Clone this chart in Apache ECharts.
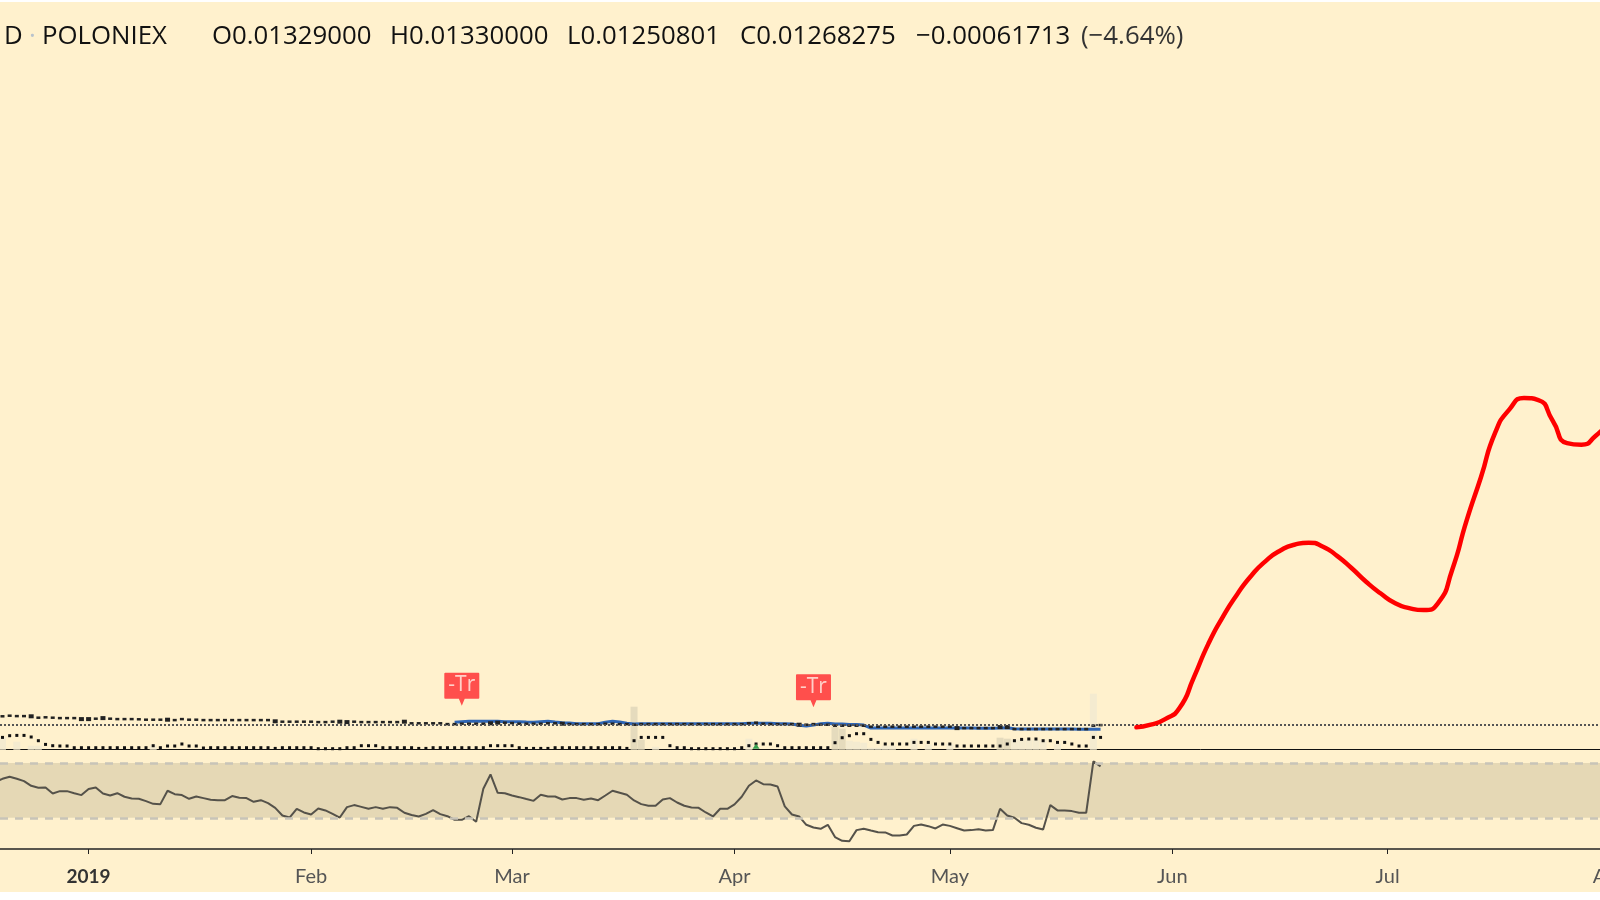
<!DOCTYPE html>
<html>
<head>
<meta charset="utf-8">
<style>
  html, body { margin: 0; padding: 0; background: #fff; }
  #main { width: 1600px; height: 900px; }
</style>
<script src="https://cdn.jsdelivr.net/npm/echarts@6/dist/echarts.min.js"></script>
</head>
<body>
<div id="main"></div>
<script>
// x values are days counted from 2019-01-01
// daily data starts 2018-12-19, 155 days up to 2019-05-22
const firstDay = -13

const monthTicks = [0, 31, 59, 90, 120, 151, 181, 212]
const monthLabels = ['2019', 'Feb', 'Mar', 'Apr', 'May', 'Jun', 'Jul', 'Aug']

const closes = [
  0.0167, 0.0167, 0.0170, 0.0168, 0.0168, 0.0167, 0.0160, 0.0162, 0.0160, 0.0158,
  0.0158, 0.0158, 0.0153, 0.0153, 0.0155, 0.0158, 0.0155, 0.0153, 0.0153, 0.0153,
  0.0152, 0.0150, 0.0150, 0.0150, 0.0150, 0.0148, 0.0153, 0.0150, 0.0150, 0.0148,
  0.0148, 0.0148, 0.0148, 0.0148, 0.0148, 0.0148, 0.0148, 0.0148, 0.0148, 0.0142,
  0.0140, 0.0140, 0.0140, 0.0140, 0.0140, 0.0138, 0.0138, 0.0140, 0.0140, 0.0138,
  0.0140, 0.0138, 0.0138, 0.0138, 0.0138, 0.0138, 0.0138, 0.0140, 0.0132, 0.0132,
  0.0132, 0.0132, 0.0132, 0.0128, 0.0128, 0.0130, 0.0130, 0.0130, 0.0130, 0.0132,
  0.0135, 0.0135, 0.0133, 0.0130, 0.0130, 0.0130, 0.0130, 0.0132, 0.0132, 0.0130,
  0.0128, 0.0128, 0.0128, 0.0128, 0.0128, 0.0130, 0.0130, 0.0128, 0.0128, 0.0125,
  0.0128, 0.0128, 0.0128, 0.0128, 0.0128, 0.0128, 0.0128, 0.0128, 0.0128, 0.0128,
  0.0128, 0.0128, 0.0128, 0.0128, 0.0128,
  0.0132, 0.0135, 0.0130, 0.0128, 0.0128, 0.0128, 0.0128,
  0.0125, 0.0125, 0.0128, 0.0125, 0.0125, 0.0120,
  0.0120, 0.0120, 0.0120, 0.0120,
  0.0115, 0.0115, 0.0115, 0.0115, 0.0115, 0.0115, 0.0115, 0.0115, 0.0115, 0.0115, 0.0115, 0.0115,
  0.0108, 0.0108, 0.0108, 0.0108, 0.0108, 0.0108, 0.0113, 0.0113,
  0.0103, 0.0103, 0.0103, 0.0103, 0.0103, 0.0103, 0.0103, 0.0103, 0.0103, 0.0103, 0.0103,
  0.0120, 0.0123
]
const heavyCandles = [5, 12, 13, 15, 24, 39, 48, 49, 57, 69, 70, 79, 112, 134, 140, 141]

// moving average line, starts 2019-02-21
const maFirstDay = 51
const maLine = [
  0.0137, 0.0140, 0.0142, 0.0142, 0.0142, 0.0142, 0.0142, 0.0140, 0.0140, 0.0140, 0.0138, 0.0137, 0.0140, 0.0142, 0.0138, 0.0135,
  0.0133, 0.0130, 0.0130, 0.0130, 0.0130, 0.0137, 0.0142, 0.0138, 0.0132, 0.0128,
  0.0130, 0.0130, 0.0130, 0.0130, 0.0130, 0.0130, 0.0130, 0.0130, 0.0130, 0.0130, 0.0130, 0.0130, 0.0130, 0.0130, 0.0130, 0.0132, 0.0132,
  0.0132, 0.0132, 0.0130, 0.0130, 0.0128, 0.0122, 0.0118, 0.0123, 0.0130, 0.0132,
  0.0128, 0.0128, 0.0126, 0.0126, 0.0123,
  0.0108, 0.0108, 0.0108, 0.0108, 0.0108, 0.0108, 0.0108, 0.0108, 0.0108, 0.0108, 0.0108, 0.0108, 0.0108,
  0.0108, 0.0108, 0.0107, 0.0107, 0.0107, 0.0108, 0.0110, 0.0105,
  0.0103, 0.0103, 0.0103, 0.0103, 0.0103, 0.0103, 0.0103, 0.0103, 0.0102, 0.0102, 0.0102, 0.0102
]

// volume moving average, same days as closes
const volumeMa = [
  11.5, 12.3, 14, 14.3, 14.3, 12.7, 9, 5.3, 4, 3.7,
  3.7, 2, 2, 2, 2, 2, 2, 2, 2, 2,
  2, 2, 4, 2, 3.7, 3.7, 5.7, 3.7, 3.7, 1.7,
  2, 2, 2, 2, 2, 2, 2, 2, 2, 1.3,
  2, 2, 2, 2, 2, 1, 1, 1, 1, 2,
  2, 4, 4, 4, 2, 2, 2, 2, 2, 1.3,
  1.3, 2, 2, 2, 2, 2, 2, 2, 2, 4,
  4, 4, 4, 2, 1.3, 1.3, 1.3, 1.3, 2, 2,
  2, 2, 2, 2, 2, 2, 2, 2, 1.3, 9,
  12.3, 12.3, 12.3, 12.3, 4, 2, 2, 1, 1, 1,
  1, 1, 1, 1, 2, 4, 5.7, 5.7, 5.7, 4,
  2, 2, 2, 2, 2, 2, 2, 7, 12, 14,
  16, 16, 10.3, 7.3, 5.7, 5.7, 5.7, 5.7, 7.3, 7.3,
  7.3, 5.7, 5.7, 5.7, 3.7, 3.7, 3.7, 3.7, 3.7, 3.7,
  3.7, 5.7, 9, 10.3, 10.7, 10.7, 9, 9, 7.3, 7.3,
  5.7, 3.7, 3.7, 12.3, 12.3
]

const volumeDays = [76, 77, 104, 105, 127, 128]
const volumeBars = [43, 10, 23, 21, 12, 11]
const paleVolumeDays = [-12, -10, -8, -7, 9, 79, 92, 106, 107, 108, 109, 110, 111, 112, 115, 117, 120, 129, 130, 131, 132, 133, 135, 140]
const paleVolumeBars = [13, 8, 4, 4, 5, 3, 11, 9, 8, 7, 2, 2, 4, 4, 11, 5, 6, 10, 10, 10, 10, 10, 6, 56]

const rsi = [
  56.1, 58.5, 60.0, 58.5, 56.8, 53.4, 52.0, 52.2, 47.8, 49.5,
  49.5, 48.0, 46.6, 51.0, 52.2, 47.8, 46.3, 48.0, 45.4, 44.1,
  43.9, 42.2, 40.2, 40.0, 49.8, 47.3, 46.6, 43.9, 45.6, 44.4,
  43.2, 42.9, 42.9, 45.9, 44.6, 44.4, 41.7, 42.9, 40.7, 37.3,
  31.7, 30.2, 36.6, 33.9, 32.4, 36.8, 35.4, 32.9, 30.2, 37.8,
  39.3, 38.0, 36.6, 37.8, 36.6, 37.8, 37.3, 33.7, 32.0, 31.0,
  32.9, 35.6, 32.7, 31.2, 28.5, 28.5, 31.2, 27.1, 51.2, 61.7,
  48.3, 48.0, 46.3, 45.1, 43.7, 42.4, 46.8, 45.6, 45.6, 43.4,
  44.4, 44.4, 43.2, 44.1, 42.9, 46.3, 49.8, 48.3, 46.8, 42.7,
  40.0, 38.8, 38.8, 43.4, 44.4, 41.2, 38.8, 37.6, 37.3, 33.9,
  31.0, 36.6, 36.6, 39.8, 45.4, 53.4, 57.3, 54.6, 54.4, 52.9,
  38.3, 32.4, 31.0, 24.9, 22.9, 22.0, 24.9, 15.9, 13.2, 12.9,
  21.0, 22.0, 20.7, 19.5, 19.3, 17.1, 17.1, 17.8, 24.1, 25.1,
  23.9, 22.2, 25.1, 24.1, 22.4, 20.7, 21.0, 21.7, 20.7, 21.0,
  36.6, 31.7, 30.0, 26.1, 24.9, 22.7, 21.5, 39.3, 35.4, 35.4,
  34.9, 33.7, 33.7, 71.2, 67.6
]

// hand drawn projection
const projectionDays = [
  146, 148, 150, 152, 154, 156, 158, 160, 162, 164, 166, 168, 170, 172, 174, 176, 178,
  180, 182, 184, 186, 188, 190, 192, 194, 196, 198, 200, 202, 204, 206, 208, 210, 212
]
const projection = [
  0.0112, 0.0125, 0.0153, 0.0208, 0.0362, 0.0528, 0.0662, 0.0775, 0.0870, 0.0943, 0.0995, 0.1025, 0.1035, 0.1015, 0.0968, 0.0907, 0.0840,
  0.0782, 0.0733, 0.0708, 0.0698, 0.0732, 0.0900, 0.1145, 0.1362, 0.1587, 0.1703, 0.1758, 0.1748, 0.1645, 0.1533, 0.1525, 0.1570, 0.1645
]

const lastClose = 0.01268275
const rsiUpper = 70
const rsiLower = 30
const tradeDays = [52, 101]
const tradePrices = [0.022, 0.0212]
const buyDay = 93
const buyVolume = 3.5

const headerFont = '"Open Sans", sans-serif'
const headerItems = [
  ['D', 4, '#111'],
  ['·', 29, '#b9c3cc'],
  ['POLONIEX', 42, '#111'],
  ['O0.01329000', 212, '#111'],
  ['H0.01330000', 390, '#111'],
  ['L0.01250801', 567, '#111'],
  ['C0.01268275', 740, '#111'],
  ['−0.00061713', 916, '#111'],
  ['(−4.64%)', 1081, '#333']
]

const dailySeries = (values, start) => values.map((v, i) => [start + i, v])
const pairs = (days, values) => days.map((d, i) => [d, values[i]])

const dayAxis = {
  type: 'value',
  min: -12.345,
  max: 218.95,
  splitLine: { show: false }
}

const chart = echarts.init(document.getElementById('main'))
chart.setOption({
  animation: false,
  backgroundColor: '#fff',
  graphic: [
    {
      type: 'rect',
      z: -10,
      silent: true,
      shape: { x: 0, y: 2, width: 1600, height: 890 },
      style: { fill: '#fff1cd' }
    },
    ...headerItems.map(item => ({
      type: 'text',
      x: item[1],
      y: 24,
      silent: true,
      style: { text: item[0], fill: item[2], font: '25.8px ' + headerFont }
    }))
  ],
  grid: [
    { left: 0, width: 1660, top: 0.7, height: 749, outerBoundsMode: 'none' },
    { left: 0, width: 1660, top: 749, height: 100, outerBoundsMode: 'none' }
  ],
  xAxis: [
    {
      ...dayAxis,
      gridIndex: 0,
      axisLine: { show: true, onZero: false, lineStyle: { color: '#111', width: 1 } },
      axisTick: { show: false },
      axisLabel: { show: false }
    },
    {
      ...dayAxis,
      gridIndex: 1,
      axisLine: { show: true, onZero: false, lineStyle: { color: '#222', width: 1.5 } },
      axisTick: { show: true, length: 5, customValues: monthTicks, lineStyle: { color: '#222' } },
      axisLabel: {
        show: true,
        customValues: monthTicks,
        hideOverlap: false,
        margin: 18,
        fontSize: 20,
        fontFamily: 'Lato, sans-serif',
        color: '#555',
        formatter: value => {
          const label = monthLabels[monthTicks.indexOf(value)]
          return label === '2019' ? '{year|' + label + '}' : label
        },
        rich: { year: { fontSize: 19, fontWeight: 'bold', color: '#333', fontFamily: 'Lato, sans-serif' } }
      }
    }
  ],
  yAxis: [
    { type: 'value', gridIndex: 0, min: 0, max: 0.3745, show: false },
    { type: 'value', gridIndex: 0, min: 0, max: 749, show: false },
    { type: 'value', gridIndex: 1, min: 7.2, max: 80.3, show: false }
  ],
  series: [
    {
      name: 'Volume',
      type: 'bar',
      xAxisIndex: 0,
      yAxisIndex: 1,
      barWidth: 7,
      barGap: '-100%',
      data: pairs(paleVolumeDays, paleVolumeBars),
      itemStyle: { color: '#f4ebd0' },
      z: 1
    },
    {
      name: 'Volume dark',
      type: 'bar',
      xAxisIndex: 0,
      yAxisIndex: 1,
      barWidth: 7,
      barGap: '-100%',
      data: pairs(volumeDays, volumeBars),
      itemStyle: { color: '#e5dbbd' },
      z: 1
    },
    {
      name: 'Last price',
      type: 'line',
      xAxisIndex: 0,
      yAxisIndex: 0,
      data: [],
      markLine: {
        silent: true,
        symbol: 'none',
        precision: 8,
        label: { show: false },
        lineStyle: { color: '#555', type: [2, 2], width: 2 },
        data: [{ yAxis: lastClose }]
      },
      z: 2
    },
    {
      name: 'MA',
      type: 'line',
      xAxisIndex: 0,
      yAxisIndex: 0,
      data: dailySeries(maLine, maFirstDay),
      showSymbol: false,
      lineStyle: { color: '#2f66b5', width: 3 },
      z: 3
    },
    {
      name: 'Close',
      type: 'scatter',
      xAxisIndex: 0,
      yAxisIndex: 0,
      data: dailySeries(closes, firstDay),
      symbol: 'rect',
      symbolSize: (value, params) => heavyCandles.includes(params.dataIndex) ? [5, 4] : [4, 2.5],
      itemStyle: { color: '#222', opacity: 1 },
      z: 4
    },
    {
      name: 'Volume MA',
      type: 'scatter',
      xAxisIndex: 0,
      yAxisIndex: 1,
      data: dailySeries(volumeMa, firstDay),
      symbol: 'rect',
      symbolSize: 3,
      itemStyle: { color: '#111', opacity: 1 },
      z: 4
    },
    {
      name: 'Buy',
      type: 'scatter',
      xAxisIndex: 0,
      yAxisIndex: 1,
      data: [[buyDay, buyVolume]],
      symbol: 'triangle',
      symbolSize: [7, 5],
      itemStyle: { color: '#35a04d', opacity: 1 },
      z: 5
    },
    {
      name: 'Trades',
      type: 'scatter',
      xAxisIndex: 0,
      yAxisIndex: 0,
      data: pairs(tradeDays, tradePrices),
      symbol: 'path://M1 0H35Q36 0 36 1V25Q36 26 35 26H21L18 33L15 26H1Q0 26 0 25V1Q0 0 1 0Z',
      symbolSize: [35, 33],
      symbolKeepAspect: false,
      symbolOffset: [0, '-50%'],
      itemStyle: { color: '#ff4f4c', opacity: 1 },
      label: {
        show: true,
        position: 'inside',
        offset: [0, -4],
        formatter: '-Tr',
        color: '#ffd0c8',
        fontSize: 21,
        fontFamily: '"Open Sans", sans-serif'
      },
      z: 6
    },
    {
      name: 'Projection',
      type: 'line',
      xAxisIndex: 0,
      yAxisIndex: 0,
      data: pairs(projectionDays, projection),
      smooth: 0.6,
      showSymbol: false,
      lineStyle: { color: '#ff0000', width: 4.5, cap: 'round' },
      z: 7
    },
    {
      name: 'RSI',
      type: 'line',
      xAxisIndex: 1,
      yAxisIndex: 2,
      data: dailySeries(rsi, firstDay),
      showSymbol: false,
      lineStyle: { color: '#55524a', width: 2 },
      markArea: {
        silent: true,
        itemStyle: { color: '#e5d8b5' },
        data: [[{ yAxis: rsiUpper }, { yAxis: rsiLower }]]
      },
      markLine: {
        silent: true,
        symbol: 'none',
        label: { show: false },
        lineStyle: { color: '#c8c4b8', type: [8, 7], width: 2.5 },
        data: [{ yAxis: rsiUpper }, { yAxis: rsiLower }]
      },
      z: 3
    }
  ]
})
</script>
</body>
</html>
